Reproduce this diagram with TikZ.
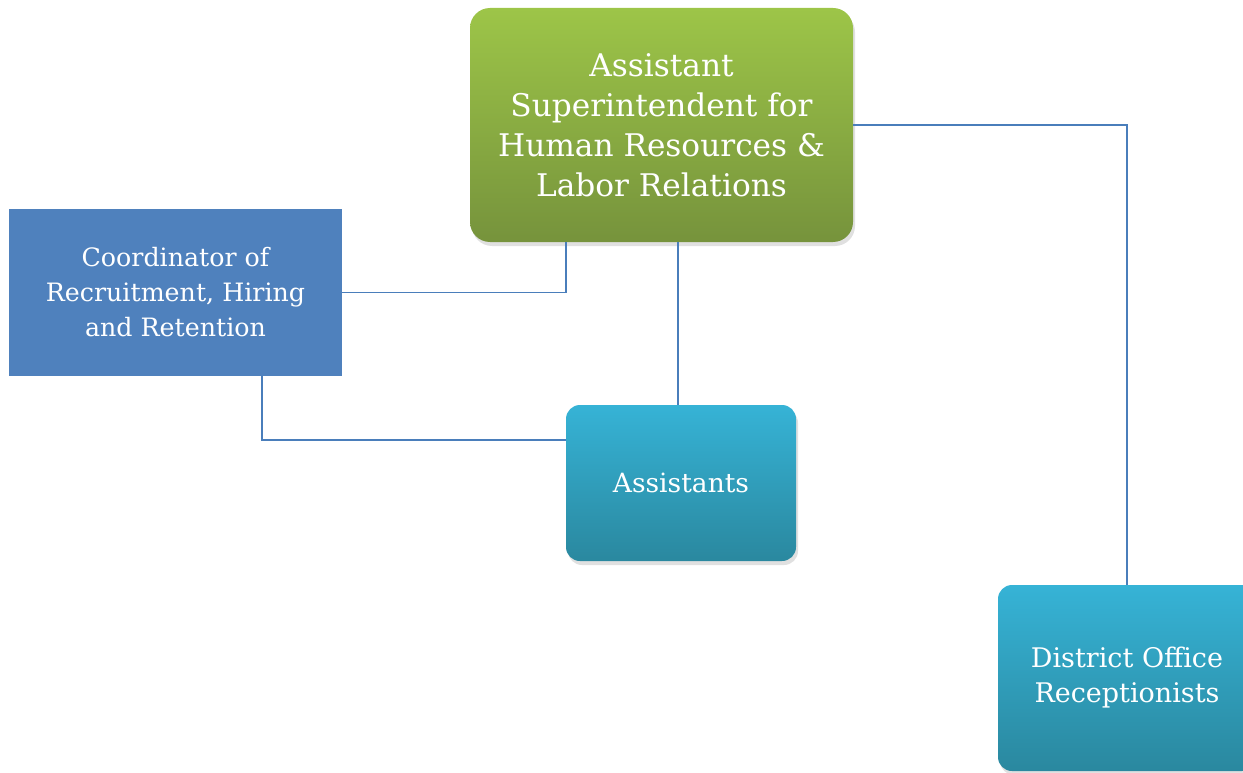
\documentclass[tikz,border=0pt]{standalone}
\usepackage{fontspec}
\setmainfont{DejaVu Serif}
\usetikzlibrary{shadows}
\definecolor{greenTop}{HTML}{9DC548}
\definecolor{greenBot}{HTML}{76933C}
\definecolor{cyanTop}{HTML}{36B3D6}
\definecolor{cyanBot}{HTML}{2A889F}
\definecolor{flatBlue}{HTML}{4F81BD}
\definecolor{lineBlue}{HTML}{4A7EBB}
\begin{document}
\begin{tikzpicture}[x=1pt,y=-1pt,
  boxshadow/.style={drop shadow={shadow xshift=2pt,shadow yshift=-4pt,opacity=0.2,fill=black!60}},
  topbox/.style={rounded corners=20pt, top color=greenTop, bottom color=greenBot, draw=none, boxshadow,
    text=white, align=center, font=\fontsize{31.2}{40}\selectfont, minimum width=383pt, minimum height=234pt, inner sep=0pt},
  flatbox/.style={fill=flatBlue, draw=none, text=white, align=center, font=\fontsize{25.3}{35}\selectfont,
    minimum width=333pt, minimum height=167pt, inner sep=0pt},
  cyanbox/.style={rounded corners=14pt, top color=cyanTop, bottom color=cyanBot, draw=none, boxshadow,
    text=white, align=center, inner sep=0pt},
  conn/.style={draw=lineBlue, line width=1.5pt}]
\useasboundingbox (0,0) rectangle (1243,773);
\clip (0,0) rectangle (1243,773);
\node[topbox] (hr) at (661.5,125) {Assistant\\Superintendent for\\Human Resources \&\\Labor Relations};
\node[flatbox] (coord) at (175.5,292.5) {Coordinator of\\Recruitment, Hiring\\and Retention};
\node[cyanbox, font=\fontsize{26.5}{35}\selectfont, minimum width=230pt, minimum height=156pt] (asst) at (681,483) {Assistants};
\node[cyanbox, font=\fontsize{27}{35}\selectfont, minimum width=258pt, minimum height=186pt] (dist) at (1127,678) {District Office\\Receptionists};
\coordinate (hrA) at (566,242);
\coordinate (hrB) at (678,242);
\coordinate (asstT) at (678,405);
\coordinate (coordB) at (262,376);
\coordinate (asstL) at (566,440);
\draw[conn] (hrA) |- (coord.east);
\draw[conn] (hrB) -- (asstT);
\draw[conn] (coordB) |- (asstL);
\draw[conn] (hr.east) -| (dist.north);
\end{tikzpicture}
\end{document}
